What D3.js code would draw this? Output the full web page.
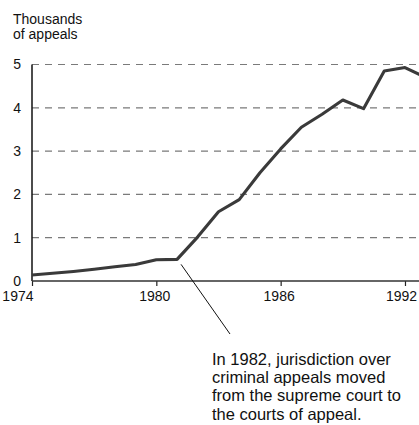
<!DOCTYPE html>
<html>
<head>
<meta charset="utf-8">
<script src="https://cdn.jsdelivr.net/npm/d3@7"></script>
<style>
  html, body { margin: 0; padding: 0; background: #fff; }
  svg { display: block; }
  text { font-family: "Liberation Sans", Arial, Helvetica, sans-serif; fill: #111; }
</style>
</head>
<body>
<svg id="chart" width="419" height="425"></svg>
<script>
// Criminal appeals filed, thousands per year
const years = [1974, 1975, 1976, 1977, 1978, 1979, 1980, 1981, 1982, 1983,
               1984, 1985, 1986, 1987, 1988, 1989, 1990, 1991, 1992, 1993];
const appeals = [0.14, 0.18, 0.22, 0.27, 0.33, 0.38, 0.49, 0.50, 1.02, 1.60,
                 1.88, 2.50, 3.05, 3.55, 3.85, 4.18, 3.98, 4.85, 4.93, 4.70];
const yTicks = [0, 1, 2, 3, 4, 5];
const xTicks = [1974, 1980, 1986, 1992];
const titleLines = ["Thousands", "of appeals"];
const noteLines = ["In 1982, jurisdiction over", "criminal appeals moved",
                   "from the supreme court to", "the courts of appeal."];
const noteYear = 1981;

const svg = d3.select("#chart");
const W = 419;

const x = d3.scaleLinear().domain([1974, 1993]).range([32, 425.7]);
const y = d3.scaleLinear().domain([0, 5]).range([281, 64.5]);

// dashed horizontal gridlines
svg.append("g")
  .selectAll("line")
  .data(yTicks.filter(d => d > 0))
  .join("line")
  .attr("x1", x(1974)).attr("x2", W)
  .attr("y1", d => y(d)).attr("y2", d => y(d))
  .attr("stroke", "#7a7a7a")
  .attr("stroke-width", 1.2)
  .attr("stroke-dasharray", "7,6");

// y axis labels
svg.append("g")
  .selectAll("text")
  .data(yTicks)
  .join("text")
  .attr("x", 21)
  .attr("y", d => y(d))
  .attr("dy", "0.35em")
  .attr("text-anchor", "end")
  .style("font-size", "14px")
  .text(d => d);

// y axis line
svg.append("line")
  .attr("x1", x(1974)).attr("x2", x(1974))
  .attr("y1", y(5)).attr("y2", y(0))
  .attr("stroke", "#111").attr("stroke-width", 1.5);

// x axis with downward ticks
const xAxis = d3.axisBottom(x)
  .tickValues(xTicks)
  .tickFormat(d3.format("d"))
  .tickSize(5)
  .tickSizeOuter(0);

const gx = svg.append("g")
  .attr("transform", `translate(0,${y(0)})`)
  .call(xAxis);
gx.select(".domain").remove();
gx.selectAll(".tick line").attr("stroke", "#222").attr("stroke-width", 1.2);
gx.selectAll(".tick text")
  .attr("y", 10)
  .attr("dy", "0.71em")
  .style("font-size", "14px")
  .style("font-family", "'Liberation Sans', Arial, sans-serif")
  .attr("fill", "#111")
  .attr("text-anchor", (d, i) => i === 0 ? "end" : "middle")
  .attr("dx", (d, i) => i === 0 ? 1 : (i === xTicks.length - 1 ? -4 : -2));

svg.append("line")
  .attr("x1", x(1974)).attr("x2", W)
  .attr("y1", y(0)).attr("y2", y(0))
  .attr("stroke", "#333").attr("stroke-width", 1.3);

// data line
const line = d3.line()
  .x((d, i) => x(years[i]))
  .y(d => y(d));

svg.append("path")
  .datum(appeals)
  .attr("d", line)
  .attr("fill", "none")
  .attr("stroke", "#3a3a3a")
  .attr("stroke-width", 3.1)
  .attr("stroke-linejoin", "round");

// axis title
svg.append("text")
  .style("font-size", "14px")
  .selectAll("tspan")
  .data(titleLines)
  .join("tspan")
  .attr("x", 13)
  .attr("y", (d, i) => 24 + i * 15)
  .text(d => d);

// annotation leader and note
const noteIdx = years.indexOf(noteYear);
svg.append("line")
  .attr("x1", x(noteYear) + 4)
  .attr("y1", y(appeals[noteIdx]) + 5)
  .attr("x2", 230)
  .attr("y2", 334)
  .attr("stroke", "#111")
  .attr("stroke-width", 1);

svg.append("text")
  .style("font-size", "16.5px")
  .selectAll("tspan")
  .data(noteLines)
  .join("tspan")
  .attr("x", 212)
  .attr("y", (d, i) => 365 + i * 18.2)
  .text(d => d);
</script>
</body>
</html>
